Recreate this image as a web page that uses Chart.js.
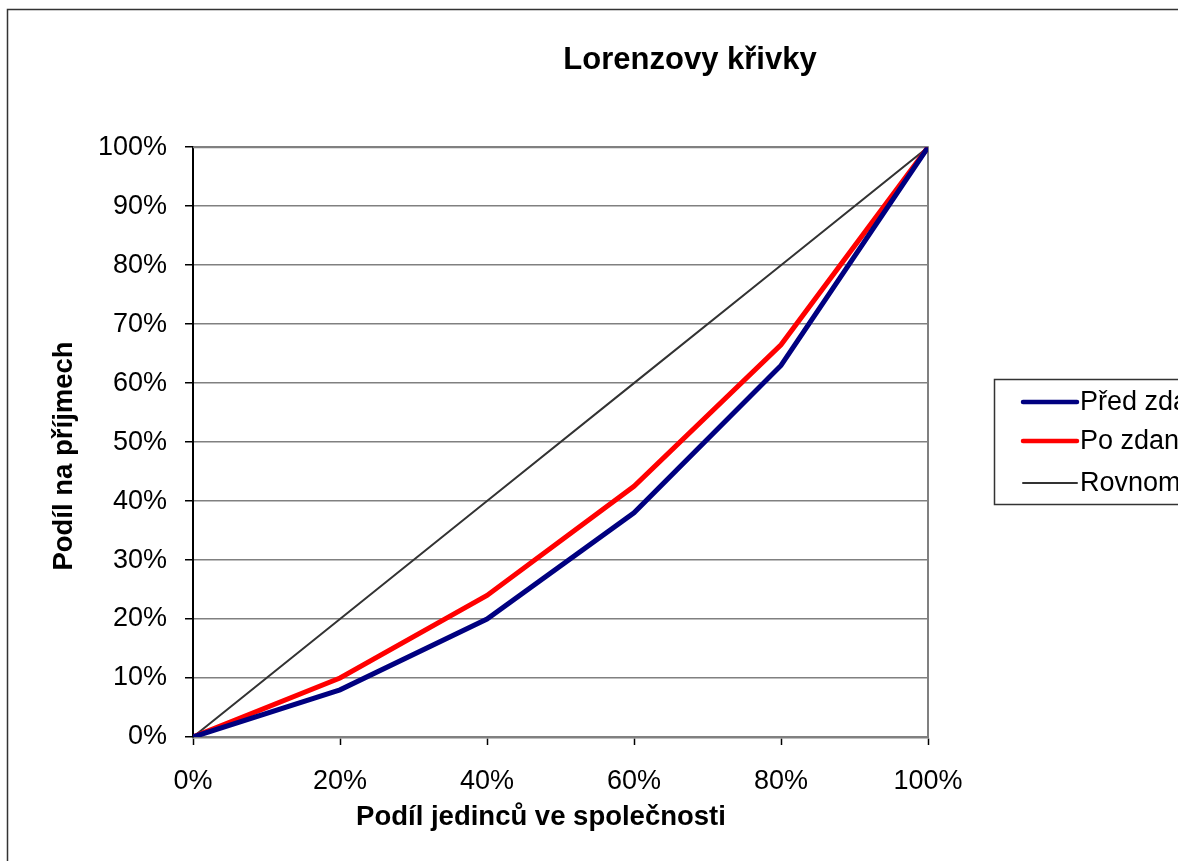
<!DOCTYPE html>
<html>
<head>
<meta charset="utf-8">
<script src="https://cdn.jsdelivr.net/npm/chart.js@4"></script>
<style>
  html, body { margin: 0; padding: 0; background: #fff; overflow: hidden; }
  #wrap { position: absolute; left: 0; top: 0; width: 1380px; height: 900px; }
</style>
</head>
<body>
<div id="wrap"><canvas id="c" width="1380" height="900"></canvas></div>
<script>
// Data
const podilJedincu = [0, 20, 40, 60, 80, 100];
const predZdanenim = [0, 8, 20, 38, 63, 100];
const poZdaneni = [0, 10, 24, 42.5, 66.5, 100];
const rovnomerne = [0, 20, 40, 60, 80, 100];

const labels = ["Před zdaněním", "Po zdanění", "Rovnoměrné rozdělení"];
const titulekX = "Podíl jedinců ve společnosti";
const titulekY = "Podíl na příjmech";

const FONT = "'Liberation Sans', Arial, sans-serif";

function body(arr){
    return arr.map((v, i) => ({ x: podilJedincu[i], y: v }));
}

// ramecek grafu + okraj plochy
const ramecek = {
    id: 'ramecek',
    beforeDatasetsDraw(chart){
        const ctx = chart.ctx;
        const a = chart.chartArea;
        ctx.save();
        ctx.strokeStyle = '#808080';
        ctx.lineWidth = 2;
        ctx.beginPath();
        ctx.moveTo(a.left, a.top);
        ctx.lineTo(a.right, a.top);
        ctx.lineTo(a.right, a.bottom);
        ctx.stroke();
        ctx.restore();
    },
    afterDraw(chart){
        const ctx = chart.ctx;
        ctx.save();
        ctx.strokeStyle = '#333';
        ctx.lineWidth = 1.5;
        ctx.strokeRect(7.5, 9.5, 1360, 880);
        ctx.restore();
    }
};

// popisky os (Excel je nema presne na stredu)
const popiskyOs = {
    id: 'popiskyOs',
    afterDraw(chart){
        const ctx = chart.ctx;
        ctx.save();
        ctx.fillStyle = '#000';
        ctx.font = "bold 27.5px " + FONT;
        ctx.textAlign = 'center';
        ctx.textBaseline = 'alphabetic';
        ctx.fillText(titulekX, 541, 825);
        ctx.translate(72, 456);
        ctx.rotate(-Math.PI / 2);
        ctx.fillText(titulekY, 0, 0);
        ctx.restore();
    }
};

// legenda
const legenda = {
    id: 'legenda',
    afterDraw(chart){
        const ctx = chart.ctx;
        const rows = [402, 441, 483];
        ctx.save();
        ctx.strokeStyle = '#333';
        ctx.lineWidth = 1.5;
        ctx.strokeRect(994.5, 379.5, 330, 125);
        ctx.font = "27px " + FONT;
        ctx.textBaseline = 'middle';
        ctx.fillStyle = '#000';
        chart.data.datasets.forEach((ds, i) => {
            ctx.strokeStyle = ds.borderColor;
            ctx.lineWidth = ds.borderWidth > 3 ? 4.5 : 2;
            ctx.lineCap = 'round';
            ctx.beginPath();
            ctx.moveTo(1023, rows[i]);
            ctx.lineTo(1077, rows[i]);
            ctx.stroke();
            ctx.fillText(ds.label, 1080, rows[i] + 1);
        });
        ctx.restore();
    }
};

new Chart(document.getElementById('c'), {
    type: 'line',
    data: {
        datasets: [
            { label: labels[0], data: body(predZdanenim), borderColor: '#000080', borderWidth: 5, pointRadius: 0, tension: 0 },
            { label: labels[1], data: body(poZdaneni), borderColor: '#ff0000', borderWidth: 5, pointRadius: 0, tension: 0 },
            { label: labels[2], data: body(rovnomerne), borderColor: '#333333', borderWidth: 2, pointRadius: 0, tension: 0 }
        ]
    },
    options: {
        responsive: false,
        animation: false,
        devicePixelRatio: 1,
        layout: { padding: { left: 0, right: 0, top: 0, bottom: 68 } },
        plugins: {
            legend: { display: false },
            tooltip: { enabled: false },
            title: {
                display: true,
                text: 'Lorenzovy křivky',
                color: '#000',
                font: { family: FONT, size: 31, weight: 'bold', lineHeight: 1.2 },
                padding: { top: 42, bottom: 68 }
            }
        },
        scales: {
            x: {
                type: 'linear',
                min: 0, max: 100,
                afterFit: s => { s.height = 95; },
                ticks: { stepSize: 20, callback: v => v + '%', color: '#000', padding: 20,
                         font: { family: FONT, size: 27 }, maxRotation: 0 },
                grid: { drawOnChartArea: false, drawTicks: true, tickLength: 8, tickColor: '#000', tickWidth: 1.5 },
                border: { color: '#808080', width: 2.5 },
                title: { display: false }
            },
            y: {
                min: 0, max: 100,
                afterFit: s => { s.width = 193; },
                ticks: { stepSize: 10, callback: v => v + '%', color: '#000', padding: 18,
                         font: { family: FONT, size: 27 } },
                grid: { color: '#808080', lineWidth: 1.5, tickLength: 8, tickColor: '#000', tickWidth: 1.5 },
                border: { color: '#000', width: 2 },
                title: { display: false }
            },
            prostor: {
                type: 'linear',
                position: 'right',
                display: true,
                afterFit: s => { s.width = 452; },
                ticks: { display: false },
                grid: { display: false },
                border: { display: false }
            }
        }
    },
    plugins: [ramecek, popiskyOs, legenda]
});
</script>
</body>
</html>
